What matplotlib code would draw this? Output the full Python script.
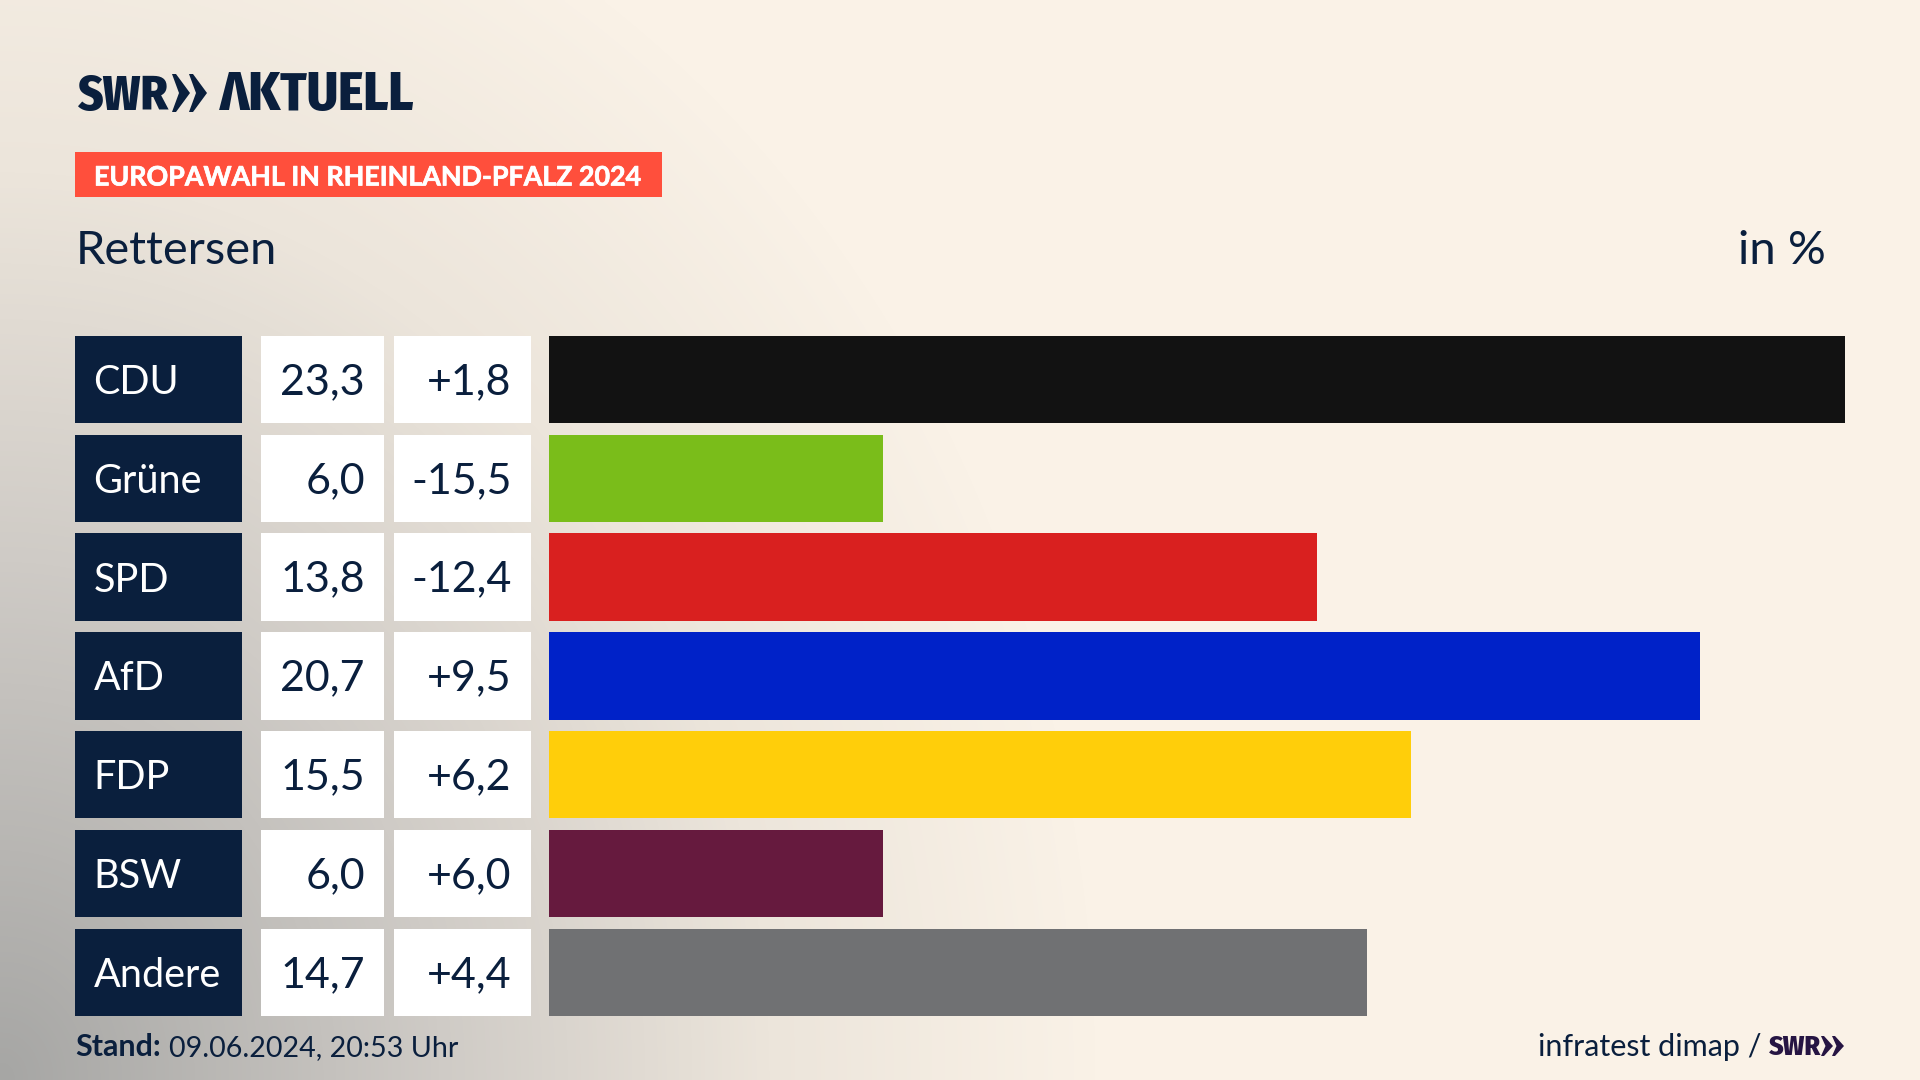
import numpy as np
import matplotlib
matplotlib.use("Agg")
import matplotlib.pyplot as plt
from matplotlib.patches import Rectangle, Polygon
from matplotlib.colors import LinearSegmentedColormap
import matplotlib.patheffects as pe

# ---- data ----
parties = ["CDU", "Grüne", "SPD", "AfD", "FDP", "BSW", "Andere"]
shares = [23.3, 6.0, 13.8, 20.7, 15.5, 6.0, 14.7]
changes = [1.8, -15.5, -12.4, 9.5, 6.2, 6.0, 4.4]
bar_colors = ["#121212", "#7ABD1A", "#D9201F", "#0022C8", "#FFCE0A", "#661A3E", "#707173"]
tag_text = "EUROPAWAHL IN RHEINLAND-PFALZ 2024"
place = "Rettersen"
unit = "in %"
stand_label = "Stand:"
stand_value = "09.06.2024, 20:53 Uhr"
source = "infratest dimap /"

W, H = 1920, 1080
NAVY = "#0A1F3D"
PURPLE = "#261543"
FONT = "Lato"
NARROW = ["Fira Sans Condensed", "Barlow Condensed", "Lato"]

def de(v, sign=False):
    s = f"{v:+.1f}" if sign else f"{v:.1f}"
    return s.replace(".", ",")

fig = plt.figure(figsize=(W / 100, H / 100), dpi=100)

# background gradient
bg = fig.add_axes([0, 0, 1, 1], zorder=0)
yy, xx = np.mgrid[0:H:270j, 0:W:480j]
d = np.sqrt((xx / 1100) ** 2 + ((H - yy) / 1300) ** 2)
t = np.clip(1 - d, 0, 1)
cmap = LinearSegmentedColormap.from_list(
    "bg", [(0, "#FAF2E7"), (0.3, "#ECE5DB"), (0.6, "#CFCBC6"), (1, "#A6A6A4")])
bg.imshow(t, cmap=cmap, vmin=0, vmax=1, extent=[0, W, H, 0], aspect="auto", interpolation="bilinear")
bg.axis("off")

# pixel-space overlay
ov = fig.add_axes([0, 0, 1, 1], zorder=2)
ov.set_xlim(0, W)
ov.set_ylim(H, 0)
ov.axis("off")
ov.patch.set_alpha(0)

ROW_TOP, ROW_STEP, ROW_H = 335.8, 98.8, 87.4

# bars
BAR_L, BAR_R = 549, 1845
ax = fig.add_axes([BAR_L / W, 1 - (ROW_TOP + 6 * ROW_STEP + ROW_H) / H,
                   (BAR_R - BAR_L) / W, (6 * ROW_STEP + ROW_H) / H], zorder=1)
ax.patch.set_alpha(0)
pad = (ROW_H / ROW_STEP) / 2
ax.barh(range(len(parties)), shares, height=ROW_H / ROW_STEP, color=bar_colors)
ax.set_xlim(0, max(shares))
ax.set_ylim(len(parties) - 1 + pad, -pad)
ax.axis("off")

# table cells
for i, (p, s, c) in enumerate(zip(parties, shares, changes)):
    top = ROW_TOP + i * ROW_STEP
    mid = top + ROW_H / 2 + 14.5
    ov.add_patch(Rectangle((75, top), 167, ROW_H, fc=NAVY, ec="none"))
    ov.add_patch(Rectangle((261, top), 123, ROW_H, fc="white", ec="none"))
    ov.add_patch(Rectangle((394, top), 137, ROW_H, fc="white", ec="none"))
    ov.text(93.5, mid, p, color="white", fontsize=28.5, family=FONT, va="baseline", ha="left")
    ov.text(365, mid, de(s), color=NAVY, fontsize=31, family=FONT, va="baseline", ha="right")
    ov.text(511.5, mid, de(c, True), color=NAVY, fontsize=31, family=FONT, va="baseline", ha="right")

# logo
def chevrons(x, top, bot, w, flat, notch, gap, color):
    m = (top + bot) / 2
    for k in range(2):
        x0 = x + k * gap
        ov.add_patch(Polygon([(x0, top), (x0 + flat, top), (x0 + w, m), (x0 + flat, bot), (x0, bot), (x0 + notch, m)],
                             closed=True, fc=color, ec="none"))
ov.text(77, 110, "SWR", color=NAVY, fontsize=35, family=NARROW, weight=800, va="baseline")
chevrons(172, 74, 112, 18, 4, 7, 17, NAVY)
ov.text(220, 110, "ΛKTUELL", color=NAVY, fontsize=38.5, family=NARROW, weight=800, va="baseline")

# tag
ov.add_patch(Rectangle((75, 152), 587, 45, fc="#FF4F3C", ec="none"))
ov.text(94, 185.5, tag_text, color="white", fontsize=19.3, family=FONT, weight="bold", va="baseline",
        path_effects=[pe.withStroke(linewidth=0.5, foreground="white")])

# headers
ov.text(76, 264, place, color=NAVY, fontsize=33.8, family=FONT, va="baseline")
ov.text(1826, 264, unit, color=NAVY, fontsize=34, family=FONT, va="baseline", ha="right")

# footer
ov.text(75, 1056.5, stand_label, color=NAVY, fontsize=22, family=FONT, weight="bold", va="baseline")
ov.text(169, 1056.5, stand_value, color=NAVY, fontsize=20.6, family=FONT, va="baseline")
ov.text(1761, 1056, source, color=NAVY, fontsize=22, family=FONT, va="baseline", ha="right")
ov.text(1769, 1055, "SWR", color=PURPLE, fontsize=20, family=NARROW, weight=800, va="baseline")
chevrons(1821, 1036, 1056, 12, 3, 4.5, 11, PURPLE)

fig.savefig("out.png", dpi=100)
